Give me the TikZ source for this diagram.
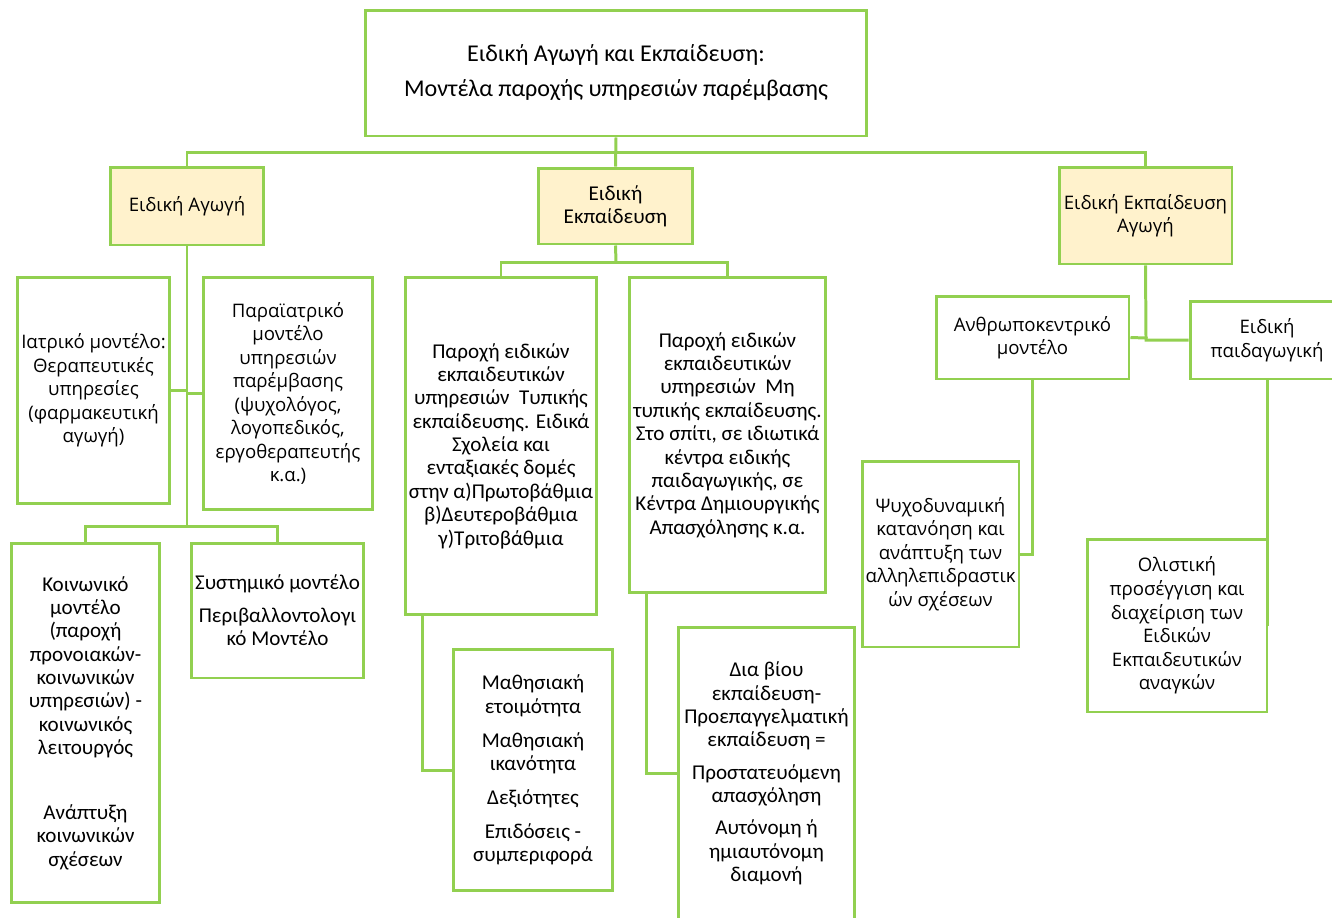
\documentclass[tikz,border=0pt]{standalone}
\usepackage{fontspec}
\setmainfont{Carlito}
\newfontfamily\osans{Open Sans}
\definecolor{vertclair}{HTML}{92D050}
\definecolor{jaunepale}{HTML}{FFF2CC}
\tikzset{
Boite/.style={
 draw=vertclair, 
 line width=1.7pt, 
 fill=white, 
 align=center, 
 inner sep=2pt, 
 font=\fontsize{12pt}{13.3pt}\selectfont
 },
BoiteOS/.style={
 Boite, 
 font=\osans\fontsize{10.6pt}{13.4pt}\selectfont
 },
Entete/.style={
 fill=jaunepale
 },
Lien/.style={
 draw=vertclair, 
 line width=1.7pt
 }
}
\begin{document}
\begin{tikzpicture}[x=0.02cm,y=-0.02cm]
\useasboundingbox (0,0) rectangle (1332,917);
\clip (0,0) rectangle (1332,917);
\node[Boite,font=\fontsize{13.7pt}{16.7pt}\selectfont,minimum width=10.04cm,minimum height=2.52cm] (titre) at (616,73) {Ειδική Αγωγή και Εκπαίδευση:\\[0.11cm]Μοντέλα παροχής υπηρεσιών παρέμβασης};
\node[BoiteOS,Entete,minimum width=3.08cm,minimum height=1.56cm] (agogi) at (187,206) {Ειδική Αγωγή};
\node[Boite,Entete,minimum width=3.10cm,minimum height=1.52cm] (ekp) at (615.5,206) {Ειδική\\Εκπαίδευση};
\node[BoiteOS,Entete,minimum width=3.46cm,minimum height=1.94cm] (ekpag) at (1145.5,215.5) {Ειδική Εκπαίδευση\\Αγωγή};
\node[BoiteOS,minimum width=3.06cm,minimum height=4.54cm] (iatr) at (93.5,390.5) {Ιατρικό μοντέλο:\\Θεραπευτικές\\υπηρεσίες\\(φαρμακευτική\\αγωγή)};
\node[BoiteOS,minimum width=3.40cm,minimum height=4.66cm] (para) at (288,393.5) {Παραϊατρικό\\μοντέλο\\υπηρεσιών\\παρέμβασης\\(ψυχολόγος,\\λογοπεδικός,\\εργοθεραπευτής\\κ.α.)};
\node[Boite,minimum width=2.98cm,minimum height=7.20cm] (koin) at (85.5,723) {Κοινωνικό\\μοντέλο\\(παροχή\\προνοιακών-\\κοινωνικών\\υπηρεσιών) -\\κοινωνικός\\λειτουργός\\[0.83cm]Ανάπτυξη\\κοινωνικών\\σχέσεων};
\node[Boite,minimum width=3.42cm,minimum height=2.70cm] (syst) at (277.5,610.5) {Συστημικό μοντέλο\\[0.18cm]Περιβαλλοντολογι\\κό Μοντέλο};
\node[Boite,minimum width=3.84cm,minimum height=6.76cm] (typ) at (501,446) {Παροχή ειδικών\\εκπαιδευτικών\\υπηρεσιών~ Τυπικής\\εκπαίδευσης. Ειδικά\\Σχολεία και\\ενταξιακές δομές\\στην α)Πρωτοβάθμια\\β)Δευτεροβάθμια\\γ)Τριτοβάθμια};
\node[Boite,minimum width=3.94cm,minimum height=6.32cm] (mtyp) at (727.5,435) {Παροχή ειδικών\\εκπαιδευτικών\\υπηρεσιών~ Μη\\τυπικής εκπαίδευσης.\\Στο σπίτι, σε ιδιωτικά\\κέντρα ειδικής\\παιδαγωγικής, σε\\Κέντρα Δημιουργικής\\Απασχόλησης κ.α.};
\node[Boite,minimum width=3.20cm,minimum height=4.84cm] (math) at (533,770) {Μαθησιακή\\ετοιμότητα\\[0.21cm]Μαθησιακή\\ικανότητα\\[0.21cm]Δεξιότητες\\[0.21cm]Επιδόσεις -\\συμπεριφορά};
\node[Boite,minimum width=3.54cm,minimum height=5.86cm] (dia) at (766.5,773.5) {Δια βίου\\εκπαίδευση-\\Προεπαγγελματική\\εκπαίδευση =\\[0.18cm]Προστατευόμενη\\απασχόληση\\[0.18cm]Αυτόνομη ή\\ημιαυτόνομη\\διαμονή};
\node[BoiteOS,minimum width=3.86cm,minimum height=1.66cm] (anthr) at (1032.5,337.5) {Ανθρωποκεντρικό\\μοντέλο};
\node[BoiteOS,minimum width=3.08cm,minimum height=1.56cm] (paid) at (1267,340) {Ειδική\\παιδαγωγική};
\node[BoiteOS,minimum width=3.14cm,minimum height=3.72cm] (psych) at (940.5,554) {Ψυχοδυναμική\\κατανόηση και\\ανάπτυξη των\\αλληλεπιδραστικ\\ών σχέσεων};
\node[BoiteOS,minimum width=3.60cm,minimum height=3.46cm] (olist) at (1177,625.5) {Ολιστική\\προσέγγιση και\\διαχείριση των\\Ειδικών\\Εκπαιδευτικών\\αναγκών};
\coordinate (busT) at (616,152);
\coordinate (busA) at (187,526);
\coordinate (busB) at (616,262);
\coordinate (busC) at (1146,338);
\draw[Lien] (titre.south) -- (ekp.north);
\draw[Lien] (agogi.north) |- (busT) -| (ekpag.north);
\draw[Lien] (agogi.south) -- (busA);
\draw[Lien] (koin.north) |- (busA) -| (syst.north);
\draw[Lien] (iatr.east) -- (iatr.east -| agogi.south);
\draw[Lien] (para.west) -- (para.west -| agogi.south);
\draw[Lien] (ekp.south) -- (busB);
\draw[Lien] (typ.north) |- (busB) -| (mtyp.north);
\draw[Lien] ([xshift=0.38cm]typ.south west) |- (math.west);
\draw[Lien] ([xshift=0.38cm]mtyp.south west) |- (dia.west);
\draw[Lien] (ekpag.south) -- (busC);
\draw[Lien] (anthr.east) -- (busC) |- (paid.west);
\draw[Lien] (anthr.south) |- (psych.east);
\draw[Lien] (paid.south) -- (paid.south |- olist.east);
\end{tikzpicture}
\end{document}
